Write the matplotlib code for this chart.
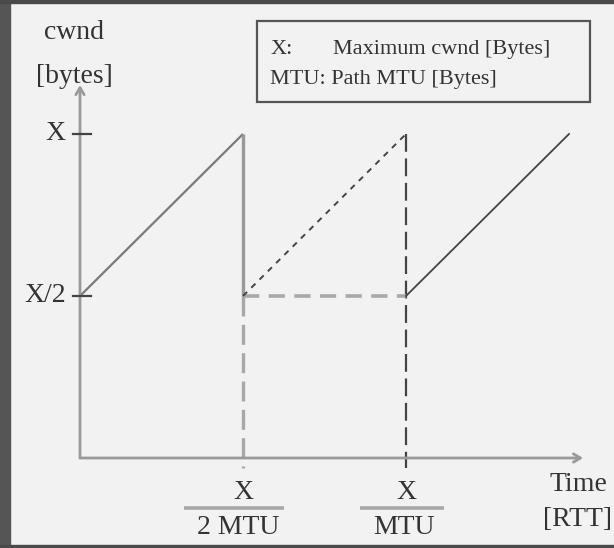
import matplotlib
matplotlib.use("Agg")
import matplotlib.pyplot as plt
from matplotlib.patches import Rectangle

plt.rcParams['font.family'] = ['Liberation Serif', 'DejaVu Serif']

# ---- data (x in units of X/(2 MTU) RTTs, y in units of X) ----
rise1_x = [0, 1]
rise1_y = [0.5, 1.0]
drop_x = [1, 1]
drop_y = [1.0, 0.5]
ideal_x = [1, 2]
ideal_y = [0.5, 1.0]
hold_x = [1, 2]
hold_y = [0.5, 0.5]
rise2_x = [2, 3]
rise2_y = [0.5, 1.0]
y_ticks = [1.0, 0.5]
y_tick_labels = ['X', 'X/2']
x_ticks = [1, 2]
x_tick_top = ['X', 'X']
x_tick_bottom = ['2 MTU', 'MTU']
legend_lines = [('X:', 'Maximum cwnd [Bytes]'), ('MTU: Path MTU [Bytes]', '')]

BG = '#f2f2f2'
TXT = '#333333'

fig = plt.figure(figsize=(6.14, 5.48), dpi=100, facecolor=BG)
ax = fig.add_axes([0, 0, 1, 1])
ax.set_facecolor(BG)
ax.axis('off')
ax.set_xlim(-80 / 163, (614 - 80) / 163)
ax.set_ylim((458 - 548) / 324, 458 / 324)

# frame border (left, top, bottom)
fig.patches.append(Rectangle((0, 0), 10 / 614, 1, transform=fig.transFigure,
                             color='#555555', zorder=10))
fig.patches.append(Rectangle((0, 1 - 3 / 548), 1, 3 / 548, transform=fig.transFigure,
                             color='#4a4a4a', zorder=10))
fig.patches.append(Rectangle((0, 0), 1, 3 / 548, transform=fig.transFigure,
                             color='#4a4a4a', zorder=10))

# axes with arrows
axis_col = '#9a9a9a'
ax.annotate('', xy=(3.086, 0), xytext=(0, 0),
            arrowprops=dict(arrowstyle='->,head_length=0.5,head_width=0.3',
                            color=axis_col, lw=2.0, shrinkA=0, shrinkB=0))
ax.annotate('', xy=(0, 1.151), xytext=(0, 0),
            arrowprops=dict(arrowstyle='->,head_length=0.5,head_width=0.3',
                            color=axis_col, lw=2.0, shrinkA=0, shrinkB=0))

# y ticks and labels
for yv, lab in zip(y_ticks, y_tick_labels):
    ax.plot([-0.043, 0.067], [yv, yv], color='#444444', lw=1.6, zorder=5)
    ax.text(-0.088, yv, lab, ha='right', va='center', fontsize=20, color=TXT)

# axis titles
ax.text(-0.037, 1.312, 'cwnd', ha='center', va='center', fontsize=20, color=TXT)
ax.text(-0.037, 1.179, '[bytes]', ha='center', va='center', fontsize=20, color=TXT)
ax.text(3.055, -0.083, 'Time', ha='center', va='center', fontsize=20, color=TXT)
ax.text(3.055, -0.191, '[RTT]', ha='center', va='center', fontsize=20, color=TXT)

# x tick fraction labels
bar_spans = [(0.638, 1.252), (1.718, 2.233)]
bottom_x = [0.97, 1.99]
for xv, top, bot, span, bx in zip(x_ticks, x_tick_top, x_tick_bottom, bar_spans, bottom_x):
    ax.text(xv, -0.105, top, ha='center', va='center', fontsize=20, color=TXT)
    ax.plot(span, [-0.154, -0.154], color='#a8a8a8', lw=2.6, solid_capstyle='butt')
    ax.text(bx, -0.216, bot, ha='center', va='center', fontsize=20, color=TXT)

# vertical dashed guides
ax.plot([1, 1], [0.5, -0.03], color='#a8a8a8', lw=2.4, linestyle=(0, (6, 2.5)))
ax.plot([2, 2], [1.0, -0.03], color='#444444', lw=1.6, linestyle=(0, (8, 3)))

# cwnd curves
ax.plot(rise1_x, rise1_y, color='#7a7a7a', lw=1.6, solid_capstyle='butt')
ax.plot(drop_x, drop_y, color='#999999', lw=2.4, solid_capstyle='butt')
ax.plot(hold_x, hold_y, color='#a8a8a8', lw=2.6, linestyle=(0, (4.5, 2.6)))
ax.plot(ideal_x, ideal_y, color='#444444', lw=1.4, linestyle=(0, (3, 3)))
ax.plot(rise2_x, rise2_y, color='#444444', lw=1.3)

# legend box
ax.add_patch(Rectangle((1.086, 1.099), 3.129 - 1.086, 1.348 - 1.099,
                       fill=False, edgecolor='#555555', lw=1.6))
ax.text(1.166, 1.262, legend_lines[0][0], ha='left', va='center', fontsize=16, color=TXT)
ax.text(1.552, 1.262, legend_lines[0][1], ha='left', va='center', fontsize=16, color=TXT)
ax.text(1.166, 1.167, legend_lines[1][0], ha='left', va='center', fontsize=16, color=TXT)

fig.savefig('out.png', dpi=100, facecolor=BG)
